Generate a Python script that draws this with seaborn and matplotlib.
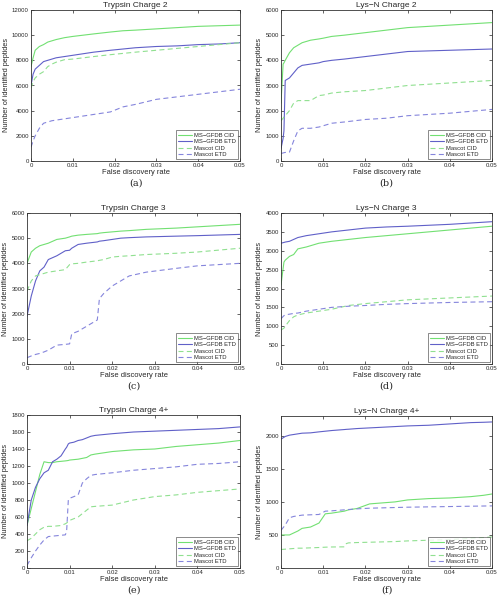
import matplotlib
matplotlib.use("Agg")
import matplotlib.pyplot as plt
import seaborn as sns
import pandas as pd

# series names and styles
series_names = ["MS\u2212GFDB CID", "MS\u2212GFDB ETD", "Mascot CID", "Mascot ETD"]
series_colors = ["#72e072", "#6060c8", "#90e090", "#8585dc"]
series_dashes = [None, None, (4.5, 3), (4.5, 3)]

# (a) Trypsin Charge 2
t2_fdr = [0, 0.0005, 0.001, 0.002, 0.003, 0.004, 0.005, 0.006, 0.008, 0.01,
          0.015, 0.019, 0.022, 0.025, 0.03, 0.035, 0.04, 0.045, 0.05]
t2_gfdb_cid = [7500, 8200, 8800, 9100, 9250, 9450, 9550, 9650, 9800, 9900,
               10100, 10250, 10350, 10400, 10500, 10600, 10700, 10750, 10800]
t2_gfdb_etd = [6000, 6900, 7300, 7600, 7900, 8000, 8100, 8200, 8300, 8400,
               8650, 8800, 8900, 9000, 9100, 9150, 9250, 9300, 9400]
t2_mascot_cid = [5800, 6300, 6600, 6900, 7100, 7500, 7700, 7850, 8050, 8100,
                 8300, 8450, 8550, 8650, 8800, 8950, 9100, 9250, 9400]
t2_mascot_etd = [1100, 1600, 2000, 2600, 3000, 3100, 3200, 3250, 3350, 3450,
                 3700, 3900, 4300, 4500, 4900, 5100, 5300, 5500, 5700]

# (b) Lys-N Charge 2
l2_fdr = [0, 0.0005, 0.0007, 0.001, 0.002, 0.003, 0.004, 0.005, 0.007, 0.009,
          0.01, 0.012, 0.015, 0.02, 0.025, 0.03, 0.04, 0.05]
l2_gfdb_cid = [2300, 3850, 3900, 4000, 4300, 4500, 4600, 4700, 4800, 4850,
               4880, 4950, 5000, 5100, 5200, 5300, 5400, 5500]
l2_gfdb_etd = [500, 900, 1200, 3200, 3300, 3500, 3700, 3800, 3850, 3900,
               3950, 4000, 4050, 4150, 4250, 4350, 4400, 4450]
l2_mascot_cid = [1600, 1700, 1750, 1800, 2000, 2300, 2400, 2400, 2400, 2600,
                 2620, 2700, 2750, 2800, 2900, 3000, 3100, 3200]
l2_mascot_etd = [300, 320, 330, 340, 350, 800, 1200, 1300, 1300, 1350,
                 1400, 1500, 1550, 1650, 1700, 1800, 1900, 2050]

# (c) Trypsin Charge 3
t3_fdr = [0, 0.001, 0.002, 0.003, 0.004, 0.005, 0.007, 0.009, 0.01, 0.0105,
          0.012, 0.014, 0.0165, 0.017, 0.018, 0.02, 0.022, 0.024, 0.028,
          0.035, 0.04, 0.05]
t3_gfdb_cid = [4000, 4450, 4600, 4700, 4750, 4800, 4950, 5000, 5050, 5080,
               5120, 5150, 5180, 5200, 5220, 5250, 5280, 5300, 5350,
               5400, 5450, 5550]
t3_gfdb_etd = [1900, 2700, 3300, 3700, 3850, 4150, 4300, 4500, 4520, 4600,
               4750, 4800, 4850, 4880, 4900, 4950, 5000, 5020, 5050,
               5080, 5100, 5150]
t3_mascot_cid = [2900, 3300, 3500, 3550, 3600, 3650, 3700, 3750, 3950, 3980,
                 4000, 4050, 4100, 4120, 4150, 4250, 4280, 4300, 4350,
                 4400, 4450, 4600]
t3_mascot_etd = [250, 320, 380, 420, 480, 550, 750, 780, 800, 1200,
                 1300, 1500, 1750, 2600, 2800, 3100, 3300, 3500, 3650,
                 3800, 3900, 4000]

# (d) Lys-N Charge 3
l3_fdr = [0, 0.0007, 0.001, 0.002, 0.003, 0.004, 0.006, 0.009, 0.012, 0.016,
          0.02, 0.025, 0.03, 0.04, 0.05]
l3_gfdb_cid = [2100, 2700, 2750, 2850, 2900, 3050, 3100, 3200, 3250, 3300,
               3350, 3400, 3450, 3550, 3650]
l3_gfdb_etd = [3200, 3220, 3230, 3250, 3300, 3350, 3400, 3450, 3500, 3550,
               3600, 3630, 3650, 3700, 3770]
l3_mascot_cid = [900, 950, 1000, 1150, 1250, 1300, 1350, 1400, 1450, 1550,
                 1600, 1650, 1700, 1750, 1800]
l3_mascot_etd = [1200, 1280, 1300, 1320, 1340, 1350, 1400, 1450, 1500, 1530,
                 1550, 1580, 1600, 1630, 1650]

# (e) Trypsin Charge 4+
t4_fdr = [0, 0.001, 0.002, 0.003, 0.004, 0.005, 0.006, 0.007, 0.008, 0.009,
          0.0093, 0.0097, 0.01, 0.011, 0.012, 0.013, 0.014, 0.015, 0.016,
          0.02, 0.025, 0.03, 0.035, 0.04, 0.045, 0.05]
t4_gfdb_cid = [500, 700, 900, 1100, 1250, 1240, 1240, 1250, 1255, 1260,
               1262, 1265, 1270, 1275, 1280, 1290, 1300, 1330, 1340,
               1370, 1390, 1400, 1430, 1450, 1470, 1500]
t4_gfdb_etd = [500, 800, 950, 1050, 1120, 1150, 1250, 1280, 1320, 1400,
               1420, 1460, 1470, 1480, 1500, 1510, 1530, 1550, 1560,
               1580, 1600, 1610, 1620, 1630, 1640, 1660]
t4_mascot_cid = [320, 350, 400, 450, 480, 490, 490, 495, 500, 520,
                 530, 545, 560, 580, 600, 640, 680, 720, 725,
                 740, 800, 840, 860, 890, 910, 930]
t4_mascot_etd = [30, 120, 200, 270, 330, 370, 375, 380, 385, 390,
                 430, 800, 820, 840, 860, 1000, 1050, 1090, 1100,
                 1120, 1150, 1170, 1190, 1220, 1230, 1250]

# (f) Lys-N Charge 4+
l4_fdr = [0, 0.001, 0.002, 0.003, 0.004, 0.005, 0.007, 0.009, 0.0105, 0.012,
          0.015, 0.0155, 0.016, 0.018, 0.021, 0.027, 0.03, 0.035, 0.04,
          0.045, 0.048, 0.05]
l4_gfdb_cid = [500, 500, 500, 530, 560, 600, 620, 680, 820, 830,
               860, 870, 880, 900, 970, 1000, 1030, 1050, 1060,
               1080, 1100, 1120]
l4_gfdb_etd = [1950, 1990, 2010, 2020, 2030, 2040, 2045, 2060, 2070, 2080,
               2095, 2098, 2100, 2110, 2120, 2140, 2150, 2160, 2180,
               2200, 2205, 2210]
l4_mascot_cid = [280, 285, 290, 295, 300, 300, 305, 310, 315, 318,
                 320, 370, 380, 385, 390, 400, 410, 420, 430,
                 450, 460, 470]
l4_mascot_etd = [570, 650, 760, 780, 790, 800, 805, 810, 860, 865,
                 880, 882, 885, 895, 905, 915, 920, 925, 930,
                 935, 938, 940]

sns.set_style("ticks")
plt.rcParams["font.family"] = ["Liberation Sans", "DejaVu Sans"]

fig = plt.figure(figsize=(4.98, 5.98), dpi=100)
W, H = 498, 598

# panel boxes in pixels: left, top, right, bottom
panels = [
    ("Trypsin Charge 2", "(a)", (31, 10, 240, 161), t2_fdr,
     [t2_gfdb_cid, t2_gfdb_etd, t2_mascot_cid, t2_mascot_etd], 12000, 2000),
    ("Lys\u2212N Charge 2", "(b)", (281, 10, 492, 161), l2_fdr,
     [l2_gfdb_cid, l2_gfdb_etd, l2_mascot_cid, l2_mascot_etd], 6000, 1000),
    ("Trypsin Charge 3", "(c)", (27, 213, 240, 364), t3_fdr,
     [t3_gfdb_cid, t3_gfdb_etd, t3_mascot_cid, t3_mascot_etd], 6000, 1000),
    ("Lys\u2212N Charge 3", "(d)", (281, 213, 492, 364), l3_fdr,
     [l3_gfdb_cid, l3_gfdb_etd, l3_mascot_cid, l3_mascot_etd], 4000, 500),
    ("Trypsin Charge 4+", "(e)", (27, 415, 240, 568), t4_fdr,
     [t4_gfdb_cid, t4_gfdb_etd, t4_mascot_cid, t4_mascot_etd], 1800, 200),
    ("Lys\u2212N Charge 4+", "(f)", (281, 416, 492, 568), l4_fdr,
     [l4_gfdb_cid, l4_gfdb_etd, l4_mascot_cid, l4_mascot_etd], 2300, 500),
]

for title, caption, box, fdr, values, ymax, ystep in panels:
    l, t, r, b = box
    ax = fig.add_axes([l / W, 1 - b / H, (r - l) / W, (b - t) / H])
    for name, vals, col, dash in zip(series_names, values, series_colors, series_dashes):
        df = pd.DataFrame({"fdr": fdr, "count": vals})
        line_ax = sns.lineplot(data=df, x="fdr", y="count", ax=ax, color=col,
                               linewidth=0.8, label=name)
        if dash is not None:
            line_ax.lines[-1].set_dashes(dash)
    ax.set_xlim(0, 0.05)
    ax.set_ylim(0, ymax)
    ax.set_xticks([0, 0.01, 0.02, 0.03, 0.04, 0.05])
    ax.set_xticklabels(["0", "0.01", "0.02", "0.03", "0.04", "0.05"])
    ax.set_yticks(range(0, ymax + 1, ystep))
    ax.tick_params(direction="in", length=2, width=0.5, labelsize=4.3,
                   pad=1.5, top=True, right=True)
    for s in ax.spines.values():
        s.set_visible(True)
        s.set_linewidth(0.6)
        s.set_color("#333333")
    ax.set_title(title, fontsize=6, pad=2)
    ax.set_xlabel("False discovery rate", fontsize=5.4, labelpad=1)
    ax.set_ylabel("Number of identified peptides", fontsize=5.2, labelpad=1.5)
    leg = ax.legend(loc="lower right", fontsize=4.2, frameon=True, fancybox=False,
                    borderaxespad=0.3, handlelength=2.4, labelspacing=0.25,
                    borderpad=0.35, handletextpad=0.4)
    leg.get_frame().set_edgecolor("#333333")
    leg.get_frame().set_linewidth(0.5)
    fig.text((l + r) / 2 / W, 1 - (b + 22) / H, caption, ha="center", va="center",
             fontsize=7, family="DejaVu Serif")

fig.savefig("out.png", dpi=100)
